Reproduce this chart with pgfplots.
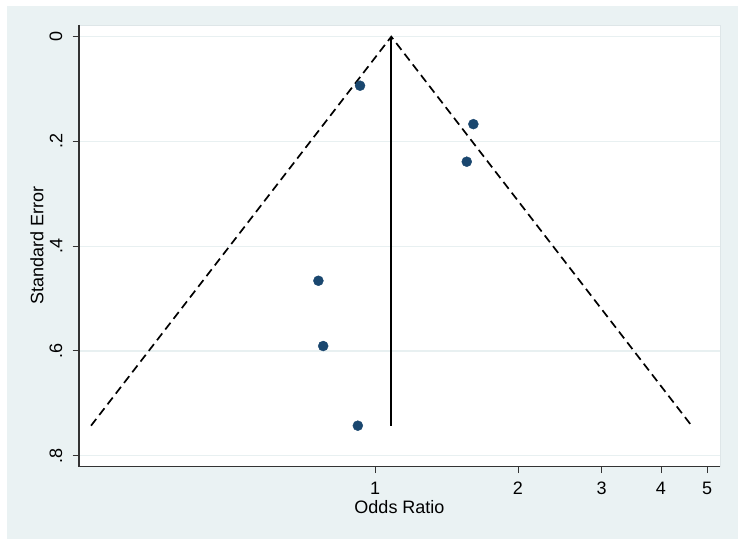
\documentclass[border=0pt]{standalone}
\usepackage{pgfplots}
\pgfplotsset{compat=1.18}
\usepackage{fontspec}
\setmainfont{Liberation Sans}
\definecolor{stbg}{RGB}{234,242,243}
\definecolor{stnavy}{RGB}{26,71,111}
\definecolor{stgrid}{RGB}{232,240,241}
\definecolor{stframe}{RGB}{222,230,232}

\begin{document}
\fontsize{18bp}{21bp}\selectfont
\begin{tikzpicture}[x=1bp,y=1bp]
% page and graph region
\fill[white] (-79,-79.3) rectangle (665,466.7);
\fill[stbg] (-72,-72.6) rectangle (659.3,461);
\fill[white] (0,0) rectangle (641,441.7);
\draw[stframe, line width=0.8bp] (0,0) rectangle (641,441.7);
\begin{axis}[
    at={(0,0)}, anchor=south west,
    scale only axis,
    width=641bp, height=441.7bp,
    xmode=log,
    xmin=0.2381, xmax=5.325,
    ymin=-0.0223, ymax=0.821,
    y dir=reverse,
    axis x line*=bottom,
    axis y line*=left,
    axis line style={black!80, line width=1.1bp},
    xtick={1,2,3,4,5},
    xticklabels={1,2,3,4,5},
    xminorticks=false,
    ytick={0,0.2,0.4,0.6,0.8},
    yticklabels={0,.2,.4,.6,.8},
    yminorticks=false,
    ymajorgrids,
    grid style={stgrid, line width=1.2bp},
    tick align=outside,
    major tick length=6.5bp,
    tick style={black!80, line width=0.9bp},
    yticklabel style={rotate=90, anchor=south},
    yticklabel shift=4bp,
    xticklabel style={anchor=north},
    xticklabel shift=3bp,
    xlabel={Odds Ratio},
    ylabel={Standard Error},
    xlabel style={at={(axis description cs:0.5,-0.0912)}, anchor=center},
    ylabel style={at={(axis description cs:-0.0655,0.5)}, anchor=center},
    clip=false,
]
% pseudo 95% confidence limits
\addplot[black, line width=1.7bp, dash pattern=on 8.5bp off 5bp] coordinates {
    (0.2524,0.7427) (1.082,0) (4.639,0.7427)
};
% pooled estimate
\addplot[black, line width=1.7bp] coordinates {
    (1.082,0) (1.082,0.7427)
};
% studies
\addplot[only marks, mark=*, mark size=5bp, draw=stnavy, fill=stnavy] coordinates {
    (0.930,0.0936)
    (1.611,0.167)
    (1.560,0.2387)
    (0.760,0.466)
    (0.778,0.5906)
    (0.920,0.7427)
};
\end{axis}
\end{tikzpicture}
\end{document}
